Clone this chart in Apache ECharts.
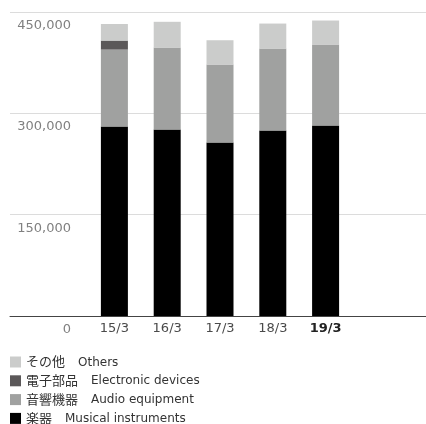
<!DOCTYPE html>
<html>
<head>
<meta charset="utf-8">
<script src="https://cdn.jsdelivr.net/npm/echarts@6/dist/echarts.min.js"></script>
<style>
html,body{margin:0;padding:0;background:#fff;}
#chart{width:426px;height:424px;}
</style>
</head>
<body>
<div id="chart"></div>
<script>
const categories = ['15/3', '16/3', '17/3', '18/3', '19/3'];
const musical = [280500, 276000, 256800, 274500, 281900];
const audio = [113900, 121400, 115400, 121400, 119900];
const electronic = [13300, 0, 0, 0, 0];
const others = [24500, 38100, 36000, 37000, 35600];
const yTicks = [0, 150000, 300000, 450000];
const namesJp = ['楽器', '音響機器', '電子部品', 'その他'];
const namesEn = ['Musical instruments', 'Audio equipment', 'Electronic devices', 'Others'];
const colors = ['#000000', '#a0a1a0', '#5b5859', '#cbcccb'];
const seriesData = [musical, audio, electronic, others];

const chart = echarts.init(document.getElementById('chart'), null, {renderer: 'canvas'});
const fullNames = namesJp.map((j, i) => j + '|' + namesEn[i]);

const option = {
  animation: false,
  backgroundColor: '#fff',
  grid: [
    {left: 10, right: 0, top: 12, bottom: 108},
    {left: 88, right: 74, top: 12, bottom: 108}
  ],
  xAxis: [
    {
      gridIndex: 0, type: 'value', min: 0, max: 1,
      axisLine: {show: true, lineStyle: {color: '#444', width: 1}},
      axisTick: {show: false}, axisLabel: {show: false}, splitLine: {show: false}
    },
    {
      gridIndex: 1, type: 'category',
      data: categories.map((c, i) => i === categories.length - 1
        ? {value: c, textStyle: {fontWeight: 'bold', color: '#222'}}
        : c),
      axisLine: {show: false}, axisTick: {show: false},
      axisLabel: {fontFamily: 'DejaVu Sans', fontSize: 13, color: '#4a4a4a', margin: 6}
    }
  ],
  yAxis: [
    {
      gridIndex: 0, type: 'value', min: yTicks[0], max: yTicks[yTicks.length - 1],
      interval: yTicks[1] - yTicks[0],
      axisLine: {show: false}, axisTick: {show: false},
      splitLine: {show: true, lineStyle: {color: '#dcdcdc', width: 1}},
      axisLabel: {
        inside: true, margin: 61, align: 'right', verticalAlign: 'top',
        padding: [7, 0, 0, 0],
        fontFamily: 'DejaVu Sans', fontSize: 13, color: '#808080',
        formatter: v => v.toLocaleString('en-US')
      }
    },
    {
      gridIndex: 1, type: 'value', min: yTicks[0], max: yTicks[yTicks.length - 1],
      show: false
    }
  ],
  legend: {
    orient: 'vertical', left: 10, top: 355, height: 120, width: 400,
    padding: 0,
    itemWidth: 11, itemHeight: 11, itemGap: 4.8,
    icon: 'rect',
    data: fullNames.slice().reverse(),
    formatter: name => {
      const p = name.split('|');
      return '{jp|' + p[0] + '　}{en|' + p[1] + '}';
    },
    textStyle: {
      color: '#333',
      rich: {
        jp: {fontFamily: 'Noto Sans CJK JP', fontSize: 13, color: '#333', lineHeight: 11, padding: [0, 0, 1, 0]},
        en: {fontFamily: 'DejaVu Sans', fontSize: 12, color: '#333', lineHeight: 11, padding: [1, 0, 0, 0]}
      }
    }
  },
  series: seriesData.map((d, i) => ({
    name: fullNames[i],
    type: 'bar', stack: 'total',
    xAxisIndex: 1, yAxisIndex: 1,
    barWidth: 27,
    itemStyle: {color: colors[i]},
    data: d
  }))
};
chart.setOption(option);
</script>
</body>
</html>
